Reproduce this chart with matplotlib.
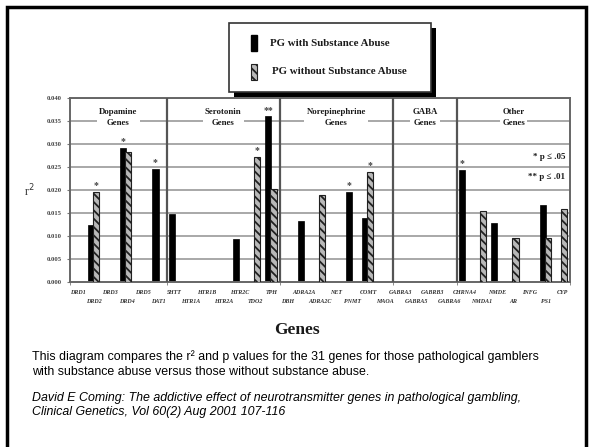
import numpy as np
import matplotlib.pyplot as plt
from matplotlib.patches import Rectangle

plt.rcParams['hatch.linewidth'] = 1.3

W, H = 591, 447

# ─── data ─────────────────────────────────────────────────────────────────────
genes = ['DRD1', 'DRD2', 'DRD3', 'DRD4', 'DRD5', 'DAT1',
         '5HTT', 'HTR1A', 'HTR1B', 'HTR2A', 'HTR2C', 'TDO2', 'TPH',
         'DBH', 'ADRA2A', 'ADRA2C', 'NET', 'PNMT', 'COMT', 'MAOA',
         'GABRA3', 'GABRA5', 'GABRB3', 'GABRA6',
         'CHRNA4', 'NMDA1', 'NMDE', 'AR', 'INFG', 'PS1', 'CYP']
nan = np.nan
with_sa = [nan, 0.0125, nan, 0.0292, nan, 0.0246,
           0.0147, nan, nan, nan, 0.0094, nan, 0.0360,
           nan, 0.0132, nan, nan, 0.0195, 0.0140, nan,
           nan, nan, nan, nan,
           0.0243, nan, 0.0129, nan, nan, 0.0167, nan]
without_sa = [nan, 0.0195, nan, 0.0283, nan, nan,
              nan, nan, nan, nan, nan, 0.0272, 0.0202,
              nan, nan, 0.0190, nan, nan, 0.0239, nan,
              nan, nan, nan, nan,
              nan, 0.0154, nan, 0.0096, nan, 0.0096, 0.0158]
groups = ['Dopamine\nGenes', 'Serotonin\nGenes', 'Norepinephrine\nGenes',
          'GABA\nGenes', 'Other\nGenes']
group_sizes = [6, 7, 7, 4, 7]
stars_with = {3: '*', 5: '*', 12: '**', 17: '*', 24: '*'}
stars_without = {1: '*', 11: '*', 18: '*'}
yticks = [0.000, 0.005, 0.010, 0.015, 0.020, 0.025, 0.030, 0.035, 0.040]

caption = ("This diagram compares the r\u00b2 and p values for the 31 genes for those pathological gamblers\n"
           "with substance abuse versus those without substance abuse.")
citation = ("David E Coming: The addictive effect of neurotransmitter genes in pathological gambling,\n"
            "Clinical Genetics, Vol 60(2) Aug 2001 107-116")

ink = '#1a1a1a'
serif = 'Liberation Serif'

fig = plt.figure(figsize=(W / 100, H / 100), dpi=100)

def fx(x):
    return x / W

def fy(y):
    return 1 - y / H

# slide frame
fig.patches.append(Rectangle((fx(7), fy(460)), fx(579), fy(7) - fy(460),
                             transform=fig.transFigure, fill=False,
                             edgecolor='black', lw=2.5))

# ─── chart ────────────────────────────────────────────────────────────────────
ax = fig.add_axes([fx(70), fy(282), fx(500), fy(98) - fy(282)])
n = len(genes)
x = np.arange(n)
bw = 0.38

for y in yticks[1:]:
    ax.axhline(y, color='#a8a8a8', lw=1.4, zorder=0)

ax.bar(x - 0.2, with_sa, bw, color='black', edgecolor='black', lw=0.5, zorder=2)
ax.bar(x + 0.12, without_sa, bw, color='#b8b8b8', edgecolor='#202020',
       hatch='\\\\\\\\', lw=0.8, zorder=3)

for i, s in stars_with.items():
    ax.text(i - 0.2, with_sa[i] + 0.0004, s, ha='center', va='bottom',
            fontsize=7, family=serif, fontweight='bold', color='#444')
for i, s in stars_without.items():
    ax.text(i + 0.12, without_sa[i] + 0.0004, s, ha='center', va='bottom',
            fontsize=7, family=serif, fontweight='bold', color='#444')

# group dividers and headers
edges = np.concatenate([[0], np.cumsum(group_sizes)]) - 0.5
for e in edges[1:-1]:
    ax.axvline(e, color='#555', lw=1.6, zorder=4)
for g, a, b in zip(groups, edges[:-1], edges[1:]):
    ax.text((a + b) / 2, 0.0379, g, ha='center', va='top', fontsize=6.3,
            family=serif, fontweight='bold', color=ink, linespacing=1.5,
            bbox=dict(facecolor='white', edgecolor='none', pad=1.5), zorder=5)

ax.text(n - 0.8, 0.0272, '* p \u2264 .05', ha='right', va='center', fontsize=6.5,
        family=serif, fontweight='bold', color=ink,
        bbox=dict(facecolor='white', edgecolor='none', pad=1), zorder=5)
ax.text(n - 0.8, 0.0228, '** p \u2264 .01', ha='right', va='center', fontsize=6.5,
        family=serif, fontweight='bold', color=ink,
        bbox=dict(facecolor='white', edgecolor='none', pad=1), zorder=5)

ax.set_xlim(-0.5, n - 0.5)
ax.set_ylim(0, 0.040)
ax.set_yticks(yticks)
ax.set_yticklabels([f'{v:.3f}' for v in yticks], fontsize=4.8, family=serif,
                   fontweight='bold', color='#444')
ax.set_xticks(x)
ax.set_xticklabels([])
ax.set_xticks(edges, minor=True)
ax.tick_params(axis='x', which='major', length=0)
ax.tick_params(axis='x', which='minor', length=2, color='#777', direction='out')
ax.tick_params(axis='y', length=2, color='#777', pad=4)
for sp in ax.spines.values():
    sp.set_color('#666')
    sp.set_linewidth(1.4)

# staggered gene labels
for i, g in enumerate(genes):
    ax.text(i, -0.0022 if i % 2 == 0 else -0.0042, g, ha='center', va='center',
            fontsize=4.3, family=serif, fontweight='bold', style='italic',
            color='#333', clip_on=False)

fig.text(fx(29), fy(191), 'r$^2$', ha='center', va='center', fontsize=8.5,
         family=serif, color='#333')
fig.text(fx(297), fy(330), 'Genes', ha='center', va='center', fontsize=12.5,
         family=serif, fontweight='bold', color=ink)

# ─── legend box with drop shadow ─────────────────────────────────────────────
fig.patches.append(Rectangle((fx(234), fy(97)), fx(202), fy(28) - fy(97),
                             transform=fig.transFigure, facecolor='black',
                             edgecolor='none'))
fig.patches.append(Rectangle((fx(229), fy(92)), fx(202), fy(23) - fy(92),
                             transform=fig.transFigure, facecolor='white',
                             edgecolor='#333', lw=1.2))
fig.patches.append(Rectangle((fx(251), fy(51)), fx(6), fy(35) - fy(51),
                             transform=fig.transFigure, facecolor='black',
                             edgecolor='black'))
fig.patches.append(Rectangle((fx(251), fy(80)), fx(6), fy(64) - fy(80),
                             transform=fig.transFigure, facecolor='#b8b8b8',
                             edgecolor='#202020', hatch='\\\\\\\\', lw=0.8))
fig.text(fx(270), fy(43), 'PG with Substance Abuse', ha='left', va='center',
         fontsize=7.8, family=serif, fontweight='bold', color=ink)
fig.text(fx(272), fy(72), 'PG without Substance Abuse', ha='left', va='center',
         fontsize=7.8, family=serif, fontweight='bold', color=ink)

# ─── caption ─────────────────────────────────────────────────────────────────
fig.text(fx(32), fy(364), caption, ha='left', va='center', fontsize=8.9,
         family='Liberation Sans', linespacing=1.3)
fig.text(fx(32), fy(405), citation, ha='left', va='center', fontsize=8.9,
         family='Liberation Sans', style='italic', linespacing=1.3)

fig.savefig('out.png', dpi=100)
